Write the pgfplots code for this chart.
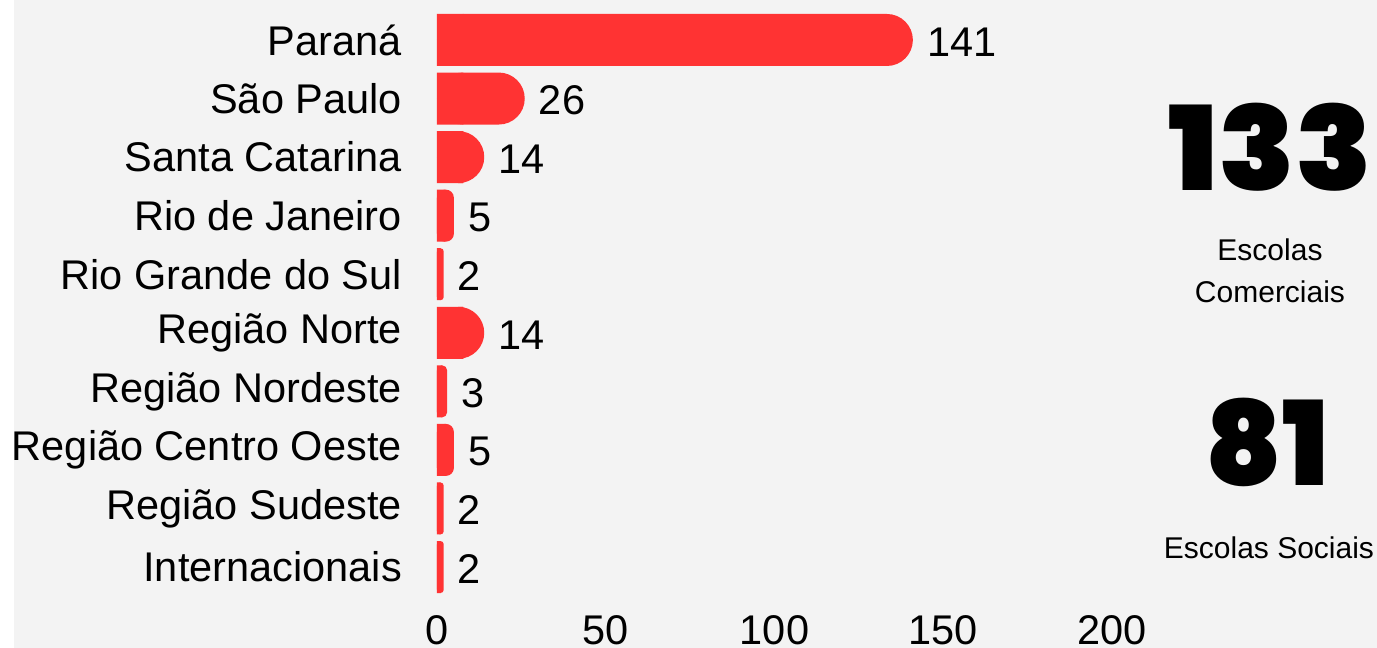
\documentclass[border=0pt]{standalone}
\usepackage{pgfplots}
\pgfplotsset{compat=1.18}
\usepackage{pgfplotstable}
\usepackage{graphicx}
\usepackage{fontspec}
\setmainfont{Liberation Sans}
\newfontfamily\bignum{Poppins Black}
\definecolor{barred}{RGB}{255,51,51}
\definecolor{bggray}{RGB}{243,243,243}
\pgfplotstableread{
idx val
0 141
1 26
2 14
3 5
4 2
5 14
6 3
7 5
8 2
9 2
}\datatable
\begin{document}
\begin{tikzpicture}
\fill[white] (0,0) rectangle (1377pt,648pt);
\fill[bggray] (14pt,0) rectangle (1377pt,648pt);
\begin{axis}[
  at={(437pt,51.7pt)}, anchor=south west,
  scale only axis, width=675pt, height=585.6pt,
  xmin=0, xmax=200, ymin=-0.5, ymax=9.5,
  y dir=reverse,
  enlargelimits=false,
  axis line style={draw=none},
  major tick length=0pt,
  xtick={0,50,100,150,200},
  ytick={0,...,9},
  yticklabels={Paraná,São Paulo,Santa Catarina,Rio de Janeiro,Rio Grande do Sul,Região Norte,Região Nordeste,Região Centro Oeste,Região Sudeste,Internacionais},
  /pgf/number format/assume math mode=true,
  tick label style={font=\fontsize{41.5}{41.5}\selectfont, inner sep=0pt},
  yticklabel style={anchor=east, xshift=-35pt},
  xticklabel style={anchor=north, yshift=-19.5pt},
  every node near coord/.append style={anchor=west, inner sep=0pt, xshift=14pt, yshift=-2pt, font=\fontsize{41.5}{41.5}\selectfont, text=black},
  barstyle/.style={xbar, bar width=52pt, bar shift=0pt, fill=barred, draw=none},
]
\addplot[barstyle, rounded corners=26pt, restrict x to domain=10:300, point meta=x, nodes near coords]
  table[x=val, y=idx]{\datatable};
\addplot[barstyle, rounded corners=8pt, restrict x to domain=4:6, point meta=x, nodes near coords]
  table[x=val, y=idx]{\datatable};
\addplot[barstyle, rounded corners=5pt, restrict x to domain=2.5:3.5, point meta=x, nodes near coords]
  table[x=val, y=idx]{\datatable};
\addplot[barstyle, rounded corners=3.3pt, restrict x to domain=1.5:2.5, point meta=x, nodes near coords]
  table[x=val, y=idx]{\datatable};
\addplot[barstyle, x filter/.expression={x>10 ? 7.8 : x/2}]
  table[x=val, y=idx]{\datatable};
\end{axis}
\node[anchor=base, font=\bignum\fontsize{117}{117}\selectfont, inner sep=0pt] at (1270.5pt,457.3pt) {\scalebox{1.07}[1]{133}};
\node[anchor=base, font=\fontsize{30}{30}\selectfont, inner sep=0pt] at (1270pt,387.3pt) {Escolas};
\node[anchor=base, font=\fontsize{30}{30}\selectfont, inner sep=0pt] at (1270pt,345pt) {Comerciais};
\node[anchor=base, font=\bignum\fontsize{117}{117}\selectfont, inner sep=0pt] at (1267pt,162pt) {81};
\node[anchor=base, font=\fontsize{30}{30}\selectfont, inner sep=0pt] at (1269pt,89pt) {Escolas Sociais};
\pgfresetboundingbox
\useasboundingbox (0,0) rectangle (1377pt,648pt);
\end{tikzpicture}
\end{document}
